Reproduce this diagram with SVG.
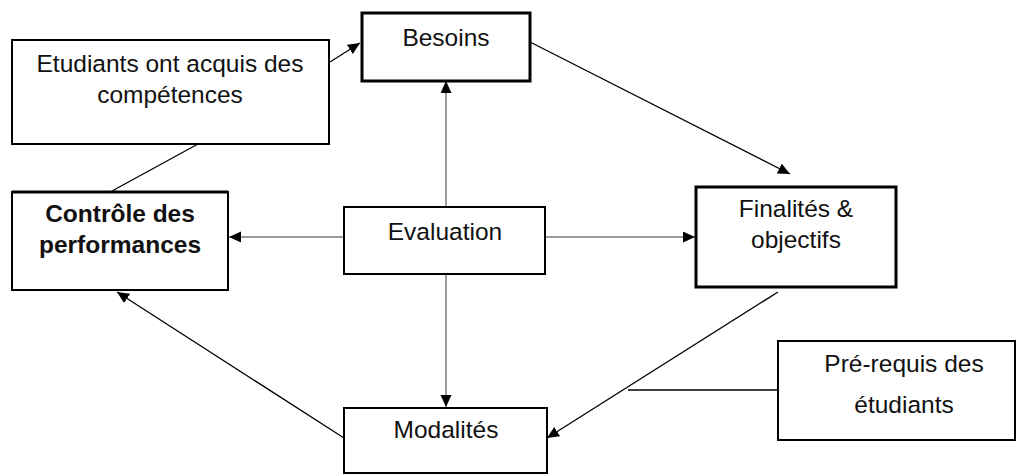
<svg xmlns="http://www.w3.org/2000/svg" width="1018" height="474" viewBox="0 0 1018 474">
<style>
.box{fill:#fff;stroke:#000;stroke-width:2}
.thick{stroke-width:3}
.t{font-family:"Liberation Sans",Arial,sans-serif;font-size:24.5px;fill:#111;text-anchor:middle}
.b{font-weight:bold}
.blk{stroke:#000;stroke-width:1.3;fill:none}
.gry{stroke:#999;stroke-width:2;fill:none}
.gryd{stroke:#666;stroke-width:1.3;fill:none}
</style>
<defs>
<marker id="ah" markerUnits="userSpaceOnUse" markerWidth="13" markerHeight="12" refX="12" refY="5.5" orient="auto">
<path d="M0,0 L12,5.5 L0,11 z" fill="#000"/>
</marker>
</defs>
<rect width="1018" height="474" fill="#fff"/>
<g id="connectors">
<line class="blk" x1="112" y1="191" x2="198" y2="144"/>
<line class="blk" stroke-width="2" x1="330" y1="62" x2="360" y2="43" marker-end="url(#ah)"/>
<line class="blk" x1="530" y1="42" x2="790" y2="174" marker-end="url(#ah)"/>
<line class="gryd" x1="446" y1="207" x2="446" y2="81" marker-end="url(#ah)"/>
<line class="gry" x1="344" y1="237" x2="229" y2="237" marker-end="url(#ah)"/>
<line class="gry" x1="545" y1="237" x2="695" y2="237" marker-end="url(#ah)"/>
<line class="gryd" x1="446" y1="274" x2="446" y2="407" marker-end="url(#ah)"/>
<line class="blk" x1="778" y1="292" x2="547" y2="438" marker-end="url(#ah)"/>
<line class="blk" x1="778" y1="390" x2="628" y2="390"/>
<line class="blk" x1="344" y1="438" x2="117" y2="292" marker-end="url(#ah)"/>
</g>
<g id="etudiants">
<rect class="box" x="12" y="40" width="317" height="104"/>
<text class="t" x="170" y="72">Etudiants ont acquis des</text>
<text class="t" x="170" y="103">compétences</text>
</g>
<g id="besoins">
<rect class="box thick" x="362" y="13" width="168" height="68"/>
<text class="t" x="446" y="46">Besoins</text>
</g>
<g id="controle">
<rect class="box" x="12" y="192" width="216" height="98"/>
<line x1="12" y1="192" x2="228" y2="192" stroke="#000" stroke-width="3"/>
<text class="t b" x="120" y="222">Contrôle des</text>
<text class="t b" x="120" y="253">performances</text>
</g>
<g id="evaluation">
<rect class="box" x="344" y="207" width="201" height="67"/>
<text class="t" x="445" y="240">Evaluation</text>
</g>
<g id="finalites">
<rect class="box thick" x="696" y="187" width="200" height="100"/>
<text class="t" x="796" y="217">Finalités &amp;</text>
<text class="t" x="796" y="248">objectifs</text>
</g>
<g id="prerequis">
<rect class="box" x="778" y="341" width="237" height="99"/>
<text class="t" x="904" y="372">Pré-requis des</text>
<text class="t" x="904" y="413">étudiants</text>
</g>
<g id="modalites">
<rect class="box" x="344" y="408" width="203" height="65"/>
<text class="t" x="446" y="438">Modalités</text>
</g>
</svg>
